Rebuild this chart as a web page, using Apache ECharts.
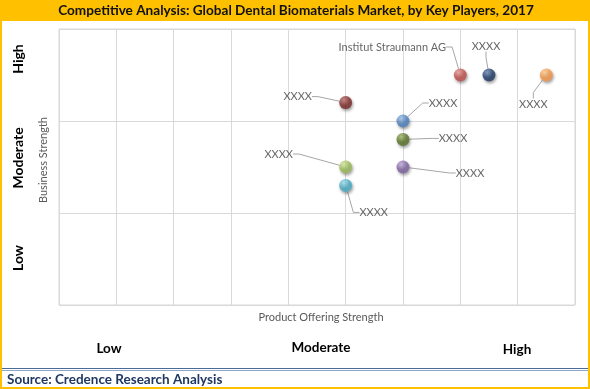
<!DOCTYPE html>
<html><head><meta charset="utf-8">
<script src="https://cdn.jsdelivr.net/npm/echarts@6/dist/echarts.min.js"></script>
<style>html,body{margin:0;padding:0;background:#fff}#c{width:590px;height:389px}</style>
</head><body><div id="c"></div>
<script>
// ---- data ----
const companies = ["Institut Straumann AG","XXXX","XXXX","XXXX","XXXX","XXXX","XXXX","XXXX","XXXX"];
const productStrength = [7, 7.5, 8.5, 5, 6, 6, 5, 6, 5];
const businessStrength = [12.5, 12.5, 12.5, 11, 10, 9, 7.5, 7.5, 6.5];
const xLevelLabels = ["Low","Moderate","High"];
const yLevelLabels = ["Low","Moderate","High"];
const titleText = "Competitive Analysis: Global Dental Biomaterials Market, by Key Players, 2017";
const sourceText = "Source: Credence Research Analysis";

// ---- styles ----
const baseColors = ["#C0504D","#1F3A66","#F79646","#7B2C2A","#4F81BD","#5A7229","#9BBB59","#8064A2","#4BACC6"];
const lightColors = ["#F0A3A1","#6F8FC2","#FFD3A0","#C77A77","#A9CBF2","#A6C270","#DDF0A8","#C7B4E2","#A8E4F2"];
const labelOffsets = [[-68,-28],[-3,-29],[-13,29],[-48,-6],[40,-18],[50,-1],[-67,-13],[67,6],[28,27]];
const FONT = "Lato, 'Liberation Sans', sans-serif";

const chart = echarts.init(document.getElementById('c'), null, {renderer:'canvas'});
const pts = productStrength.map((x,i)=>({
  value:[x, businessStrength[i]],
  name: companies[i],
  itemStyle:{
    color:{type:'radial',x:0.38,y:0.32,r:0.75,colorStops:[{offset:0,color:lightColors[i]},{offset:0.55,color:baseColors[i]},{offset:1,color:baseColors[i]}]},
    shadowBlur:3, shadowColor:'rgba(0,0,0,0.45)', shadowOffsetX:1, shadowOffsetY:2
  }
}));

chart.setOption({
  animation:false,
  grid:{left:59, top:29, width:516, height:276, show:true, borderColor:'#d9d9d9', borderWidth:1},
  xAxis:{type:'value', min:0, max:9, interval:1,
    axisLine:{show:false}, axisTick:{show:false}, axisLabel:{show:false},
    splitLine:{show:true, lineStyle:{color:'#d9d9d9', width:1}}},
  yAxis:{type:'value', min:0, max:15, interval:5,
    axisLine:{show:false}, axisTick:{show:false}, axisLabel:{show:false},
    splitLine:{show:true, lineStyle:{color:'#d9d9d9', width:1}}},
  series:[{
    type:'scatter', symbol:'circle', symbolSize:13, data:pts,
    label:{show:true, position:'inside', formatter:'{b}', color:'#404040', fontFamily:FONT, fontSize:11},
    labelLine:{show:true, length2:6, lineStyle:{color:'#a6a6a6', width:1}},
    labelLayout:function(p){ const o=labelOffsets[p.dataIndex]; return {dx:o[0], dy:o[1]}; }
  }],
  graphic:[
    {type:'rect', shape:{x:1, y:1, width:588, height:387}, style:{fill:'none', stroke:'#FFC000', lineWidth:2}, z:10},
    {type:'rect', shape:{x:0, y:0, width:590, height:21}, style:{fill:'#FFC000'}, z:9},
    {type:'text', x:296, y:11, style:{text:titleText, fill:'#111', font:'bold 13.6px '+FONT, align:'center', verticalAlign:'middle'}, z:11},
    {type:'text', x:18, y:59, rotation:Math.PI/2, style:{text:yLevelLabels[2], fill:'#000', font:'bold 14px '+FONT, align:'center', verticalAlign:'middle'}},
    {type:'text', x:18, y:158, rotation:Math.PI/2, style:{text:yLevelLabels[1], fill:'#000', font:'bold 14px '+FONT, align:'center', verticalAlign:'middle'}},
    {type:'text', x:18, y:258, rotation:Math.PI/2, style:{text:yLevelLabels[0], fill:'#000', font:'bold 14px '+FONT, align:'center', verticalAlign:'middle'}},
    {type:'text', x:43, y:160, rotation:Math.PI/2, style:{text:'Business Strength', fill:'#595959', font:'11px '+FONT, align:'center', verticalAlign:'middle'}},
    {type:'text', x:321, y:317, style:{text:'Product Offering Strength', fill:'#595959', font:'11px '+FONT, align:'center', verticalAlign:'middle'}},
    {type:'text', x:109, y:349, style:{text:xLevelLabels[0], fill:'#000', font:'bold 13.5px '+FONT, align:'center', verticalAlign:'middle'}},
    {type:'text', x:321, y:348, style:{text:xLevelLabels[1], fill:'#000', font:'bold 13.5px '+FONT, align:'center', verticalAlign:'middle'}},
    {type:'text', x:517, y:350, style:{text:xLevelLabels[2], fill:'#000', font:'bold 13.5px '+FONT, align:'center', verticalAlign:'middle'}},
    {type:'rect', shape:{x:0, y:368, width:590, height:1}, style:{fill:'#4A6A9A'}},
    {type:'rect', shape:{x:0, y:370, width:590, height:1}, style:{fill:'#8FA6C6'}},
    {type:'text', x:7, y:380, style:{text:sourceText, fill:'#1F3864', font:'bold 13.5px '+FONT, align:'left', verticalAlign:'middle'}}
  ]
});
</script></body></html>
